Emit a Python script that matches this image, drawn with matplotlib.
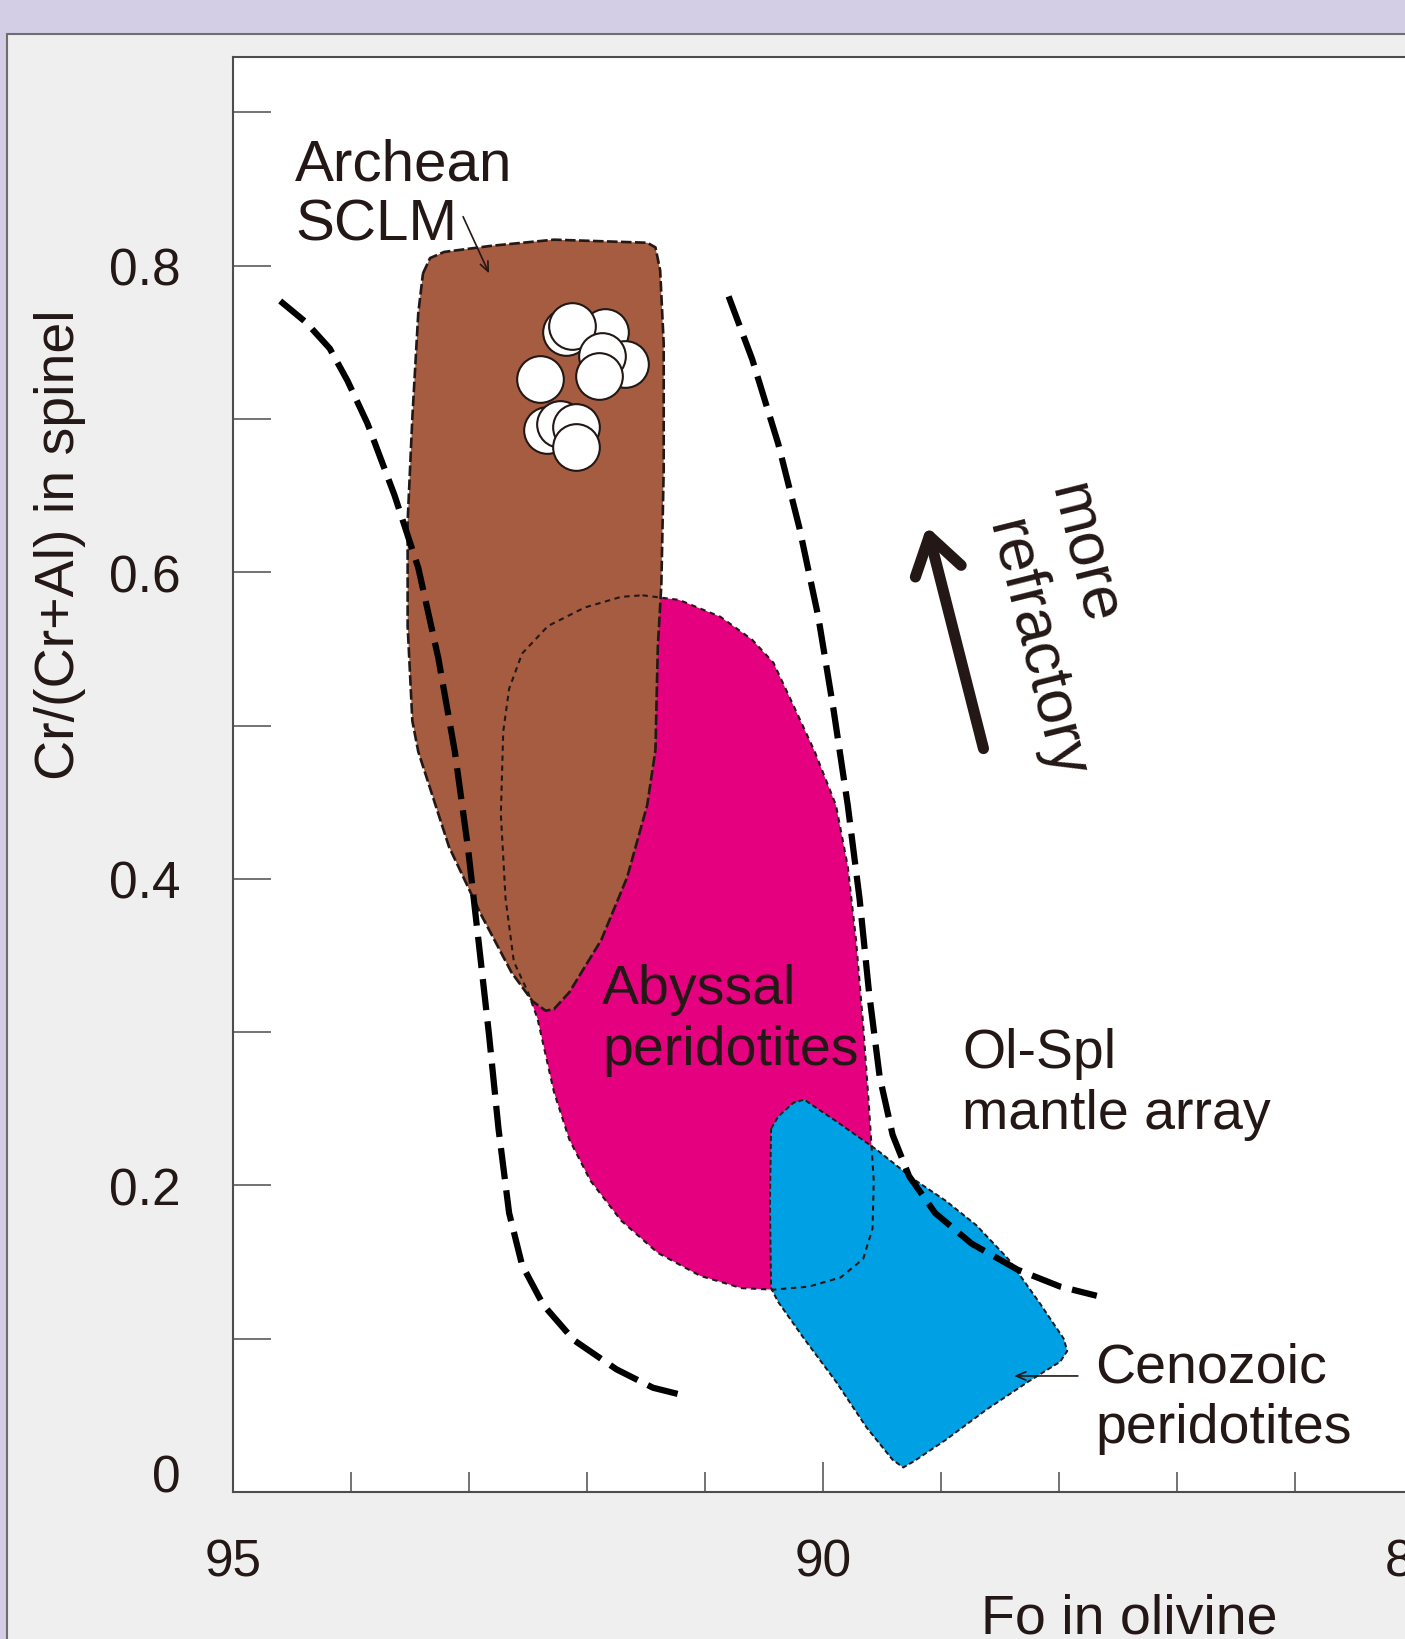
import matplotlib.pyplot as plt
from matplotlib.patches import Rectangle
from matplotlib.ticker import FixedLocator, MultipleLocator

# Archean SCLM field: Fo in olivine vs Cr# in spinel
sclm_fo = [93.39, 93.33, 93.21, 92.81, 92.28, 91.49, 91.42, 91.38, 91.35, 91.35,
           91.37, 91.40, 91.42, 91.49, 91.66, 91.88, 92.15, 92.28, 92.35, 92.46,
           92.64, 92.90, 93.17, 93.43, 93.48, 93.52, 93.52, 93.48, 93.43]
sclm_cr = [0.795, 0.805, 0.809, 0.813, 0.817, 0.815, 0.812, 0.797, 0.749, 0.667,
           0.592, 0.551, 0.484, 0.448, 0.401, 0.360, 0.326, 0.315, 0.314, 0.320,
           0.339, 0.377, 0.421, 0.483, 0.503, 0.565, 0.633, 0.701, 0.769]

# Abyssal peridotites
abyssal_fo = [91.53, 91.22, 90.87, 90.60, 90.42, 90.25, 90.07, 89.89, 89.79, 89.72,
              89.66, 89.61, 89.57, 89.58, 89.66, 89.85, 90.12, 90.42, 90.69, 91.04,
              91.40, 91.71, 91.97, 92.15, 92.28, 92.35, 92.42, 92.50, 92.62, 92.69,
              92.73, 92.71, 92.66, 92.55, 92.33, 92.02, 91.71]
abyssal_cr = [0.585, 0.582, 0.571, 0.556, 0.541, 0.513, 0.483, 0.448, 0.408, 0.360,
              0.305, 0.251, 0.203, 0.172, 0.152, 0.140, 0.134, 0.132, 0.133, 0.141,
              0.156, 0.177, 0.203, 0.230, 0.261, 0.285, 0.309, 0.326, 0.346, 0.387,
              0.442, 0.496, 0.524, 0.547, 0.565, 0.577, 0.584]

# Cenozoic peridotites
cenozoic_fo = [90.44, 90.38, 90.25, 90.16, 89.89, 89.54, 89.23, 88.96, 88.70, 88.43,
               88.17, 87.96, 87.93, 87.99, 88.26, 88.61, 88.96, 89.23, 89.32, 89.41,
               89.63, 89.89, 90.16, 90.38, 90.44, 90.45]
cenozoic_cr = [0.237, 0.245, 0.254, 0.256, 0.242, 0.223, 0.204, 0.190, 0.174, 0.152,
               0.124, 0.100, 0.092, 0.085, 0.072, 0.054, 0.034, 0.020, 0.016, 0.021,
               0.042, 0.072, 0.100, 0.124, 0.133, 0.189]

# Ol-Spl mantle array bounds
array_left_fo = [94.60, 94.38, 94.18, 94.03, 93.86, 93.63, 93.43, 93.26, 93.12, 93.01,
                 92.92, 92.83, 92.75, 92.66, 92.55, 92.37, 92.11, 91.75, 91.44, 91.18]
array_left_cr = [0.777, 0.763, 0.746, 0.725, 0.697, 0.650, 0.603, 0.544, 0.483, 0.421,
                 0.360, 0.298, 0.237, 0.182, 0.148, 0.122, 0.099, 0.080, 0.068, 0.063]
array_right_fo = [90.80, 90.60, 90.38, 90.20, 90.04, 89.91, 89.79, 89.69, 89.61, 89.52,
                  89.41, 89.27, 89.05, 88.74, 88.35, 87.99, 87.68]
array_right_cr = [0.780, 0.739, 0.684, 0.629, 0.571, 0.510, 0.448, 0.387, 0.326, 0.271,
                  0.233, 0.206, 0.182, 0.162, 0.145, 0.134, 0.128]

# samples
sample_fo = [91.85, 92.18, 92.13, 91.68, 91.87, 91.90, 92.40, 92.34, 92.23, 92.09, 92.09]
sample_cr = [0.757, 0.757, 0.761, 0.736, 0.741, 0.728, 0.726, 0.693, 0.697, 0.695, 0.682]

x_ticks = [95, 90, 85]
x_labels = ["95", "90", "85"]
y_ticks = [0, 0.2, 0.4, 0.6, 0.8]
y_labels = ["0", "0.2", "0.4", "0.6", "0.8"]

INK = "#231815"
BROWN = "#A65C40"
MAGENTA = "#E4007F"
BLUE = "#00A0E4"

plt.rcParams["font.family"] = ["Liberation Sans", "DejaVu Sans"]

fig = plt.figure(figsize=(14.05, 16.4), dpi=100)
fig.patch.set_facecolor("#D3CEE6")
fig.add_artist(Rectangle((7 / 1405, -0.01), 1.0, 1 - 35 / 1640 + 0.01,
                         transform=fig.transFigure, facecolor="#EFEFEF",
                         edgecolor="#6E6E6E", lw=1.5, zorder=0))

ax = fig.add_axes([233 / 1405, 147 / 1640, 1180 / 1405, 1435.5 / 1640])
ax.set_xlim(95, 85)
ax.set_ylim(0, 0.9365)
for s in ax.spines.values():
    s.set_color("#4D4D4D")
    s.set_linewidth(1.5)


def closed(a):
    return list(a) + [a[0]]


# filled fields
ax.fill(abyssal_fo, abyssal_cr, color=MAGENTA, lw=0, zorder=1)
ax.fill(sclm_fo, sclm_cr, color=BROWN, lw=0, zorder=2)
ax.fill(cenozoic_fo, cenozoic_cr, color=BLUE, lw=0, zorder=2)

# field outlines on top so hidden edges show through
ax.plot(closed(abyssal_fo), closed(abyssal_cr), color=INK, lw=1.5, dashes=(2.6, 2.2), zorder=3)
ax.plot(closed(sclm_fo), closed(sclm_cr), color=INK, lw=1.9, dashes=(4, 1.3), zorder=3)
ax.plot(closed(cenozoic_fo), closed(cenozoic_cr), color=INK, lw=1.4, dashes=(2.6, 1.5), zorder=3)

# mantle array bounds
ax.plot(array_left_fo, array_left_cr, color="black", lw=4.5, dashes=(5, 1.8), zorder=4)
ax.plot(array_right_fo, array_right_cr, color="black", lw=4.5, dashes=(5, 1.8), zorder=4)

ax.scatter(sample_fo, sample_cr, s=1130, facecolor="white", edgecolor=INK,
           linewidth=1.5, zorder=5)

# labels
txt = dict(color=INK, fontsize=40, ha="left", va="baseline", zorder=6)
ax.text(94.475, 0.8565, "Archean", **dict(txt, fontsize=42))
ax.text(94.475, 0.8174, "SCLM", **dict(txt, fontsize=42))
ax.text(91.87, 0.319, "Abyssal", **txt)
ax.text(91.87, 0.279, "peridotites", **txt)
ax.text(88.82, 0.2772, "Ol-Spl", **txt)
ax.text(88.82, 0.2374, "mantle array", **txt)
ax.text(87.69, 0.0724, "Cenozoic", **txt)
ax.text(87.69, 0.0326, "peridotites", **txt)

thin = dict(arrowstyle="->,head_length=0.7,head_width=0.3", color=INK, lw=1.2,
            shrinkA=0, shrinkB=0)
ax.annotate("", xy=(92.83, 0.795), xytext=(93.05, 0.832), arrowprops=thin, zorder=6)
ax.annotate("", xy=(88.38, 0.0757), xytext=(87.84, 0.0757), arrowprops=thin, zorder=6)

ax.annotate("", xy=(89.12, 0.630), xytext=(88.64, 0.485),
            arrowprops=dict(arrowstyle="->,head_length=1.3,head_width=0.85",
                            color=INK, lw=8, mutation_scale=20,
                            shrinkA=0, shrinkB=0), zorder=6)
rot = dict(color=INK, fontsize=45, rotation=-76, rotation_mode="anchor",
           ha="center", va="center", zorder=6)
ax.text(87.80, 0.612, "more", **rot)
ax.text(88.20, 0.550, "refractory", **rot)

# axes
ax.xaxis.set_major_locator(FixedLocator(x_ticks))
ax.set_xticklabels(x_labels)
ax.xaxis.set_minor_locator(MultipleLocator(1))
ax.yaxis.set_major_locator(FixedLocator(y_ticks))
ax.set_yticklabels(y_labels)
ax.yaxis.set_minor_locator(MultipleLocator(0.1))
ax.tick_params(axis="x", which="major", direction="in", length=21.6, width=1.1,
               pad=33, labelsize=37, colors="#4D4D4D", labelcolor=INK)
ax.tick_params(axis="x", which="minor", direction="in", length=14.4, width=1.1,
               colors="#4D4D4D")
ax.tick_params(axis="y", which="both", direction="in", length=27, width=1.1,
               pad=38, labelsize=37, colors="#4D4D4D", labelcolor=INK)
ax.get_yticklabels()[0].set_va("baseline")

ax.set_xlabel("Fo in olivine", fontsize=40, color=INK, ha="left", va="baseline")
ax.xaxis.set_label_coords(0.634, -0.098)
ax.set_ylabel("Cr/(Cr+Al) in spinel", fontsize=40, color=INK, va="center")
ax.yaxis.set_label_coords(-0.1466, 0.6604)

fig.savefig("out.png", dpi=100, facecolor=fig.get_facecolor())
